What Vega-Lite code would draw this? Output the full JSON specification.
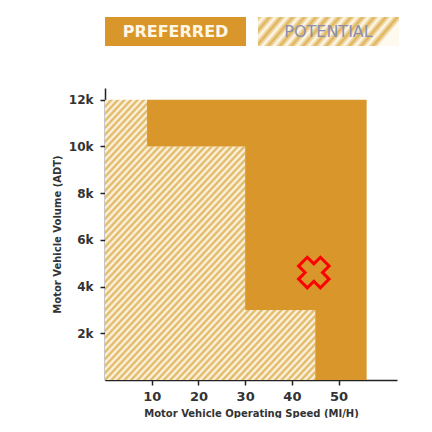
{
  "$schema": "https://vega.github.io/schema/vega-lite/v6.json",
  "padding": {"left": 52, "top": 17, "right": 0, "bottom": 0},
  "background": "#ffffff",
  "datasets": {
    "legend": [{"label": "PREFERRED"}, {"label": "POTENTIAL"}],
    "boundary": [
      {"speed": 0, "volume": 12000},
      {"speed": 9, "volume": 10000},
      {"speed": 30, "volume": 3000},
      {"speed": 45, "volume": 0},
      {"speed": 56, "volume": 0}
    ],
    "marker": [{"speed": 44.7, "volume": 4600}]
  },
  "config": {"view": {"stroke": null}, "font": "DejaVu Sans"},
  "spacing": 42,
  "bounds": "flush",
  "vconcat": [
    {
      "width": 294,
      "height": 29,
      "data": {"name": "legend"},
      "encoding": {
        "x": {"field": "label", "type": "nominal", "axis": null,
              "scale": {"domain": ["PREFERRED", "POTENTIAL"], "paddingInner": 0.078, "paddingOuter": 0}}
      },
      "layer": [
        {"transform": [{"filter": "datum.label === 'PREFERRED'"}], "mark": {"type": "rect", "fill": "#d8962b"}},
        {"transform": [{"filter": "datum.label === 'POTENTIAL'"}],
         "mark": {"type": "rect", "fill": {"gradient": "linear", "x1": 0, "y1": 0, "x2": 1, "y2": 0.175, "stops": [
           {"offset": 0, "color": "#deb256"}, {"offset": 0.04, "color": "#fffaf0"},
           {"offset": 0.08, "color": "#deb256"}, {"offset": 0.12, "color": "#fffaf0"},
           {"offset": 0.16, "color": "#deb256"}, {"offset": 0.2, "color": "#fffaf0"},
           {"offset": 0.24, "color": "#deb256"}, {"offset": 0.28, "color": "#fffaf0"},
           {"offset": 0.32, "color": "#deb256"}, {"offset": 0.36, "color": "#fffaf0"},
           {"offset": 0.4, "color": "#deb256"}, {"offset": 0.44, "color": "#fffaf0"},
           {"offset": 0.48, "color": "#deb256"}, {"offset": 0.52, "color": "#fffaf0"},
           {"offset": 0.56, "color": "#deb256"}, {"offset": 0.6, "color": "#fffaf0"},
           {"offset": 0.64, "color": "#deb256"}, {"offset": 0.68, "color": "#fffaf0"},
           {"offset": 0.72, "color": "#deb256"}, {"offset": 0.76, "color": "#fffaf0"},
           {"offset": 0.8, "color": "#deb256"}, {"offset": 0.84, "color": "#fffaf0"},
           {"offset": 0.88, "color": "#deb256"}, {"offset": 0.92, "color": "#fffaf0"},
           {"offset": 0.96, "color": "#deb256"}, {"offset": 1, "color": "#fffaf0"}
         ]}}},
        {"transform": [{"filter": "datum.label === 'PREFERRED'"}],
         "mark": {"type": "text", "font": "DejaVu Sans", "fontSize": 16, "fontWeight": "bold", "fill": "#fff6e6"},
         "encoding": {"text": {"field": "label"}}},
        {"transform": [{"filter": "datum.label === 'POTENTIAL'"}],
         "mark": {"type": "text", "font": "DejaVu Sans", "fontSize": 16, "fontWeight": "normal", "fill": "#8a8fb0"},
         "encoding": {"text": {"field": "label"}}}
      ]
    },
    {
      "width": 292,
      "height": 292,
      "layer": [
        {
          "data": {"name": "boundary"},
          "mark": {"type": "area", "interpolate": "step-after", "fill": {"gradient": "linear", "x1": 0, "y1": 0, "x2": 1, "y2": 1, "stops": [
            {"offset": 0, "color": "#deb256"}, {"offset": 0.00625, "color": "#fffaf0"}, {"offset": 0.0125, "color": "#deb256"}, {"offset": 0.01875, "color": "#fffaf0"}, {"offset": 0.025, "color": "#deb256"}, {"offset": 0.03125, "color": "#fffaf0"}, {"offset": 0.0375, "color": "#deb256"}, {"offset": 0.04375, "color": "#fffaf0"}, {"offset": 0.05, "color": "#deb256"}, {"offset": 0.05625, "color": "#fffaf0"}, {"offset": 0.0625, "color": "#deb256"}, {"offset": 0.06875, "color": "#fffaf0"}, {"offset": 0.075, "color": "#deb256"}, {"offset": 0.08125, "color": "#fffaf0"}, {"offset": 0.0875, "color": "#deb256"}, {"offset": 0.09375, "color": "#fffaf0"},
            {"offset": 0.1, "color": "#deb256"}, {"offset": 0.10625, "color": "#fffaf0"}, {"offset": 0.1125, "color": "#deb256"}, {"offset": 0.11875, "color": "#fffaf0"}, {"offset": 0.125, "color": "#deb256"}, {"offset": 0.13125, "color": "#fffaf0"}, {"offset": 0.1375, "color": "#deb256"}, {"offset": 0.14375, "color": "#fffaf0"}, {"offset": 0.15, "color": "#deb256"}, {"offset": 0.15625, "color": "#fffaf0"}, {"offset": 0.1625, "color": "#deb256"}, {"offset": 0.16875, "color": "#fffaf0"}, {"offset": 0.175, "color": "#deb256"}, {"offset": 0.18125, "color": "#fffaf0"}, {"offset": 0.1875, "color": "#deb256"}, {"offset": 0.19375, "color": "#fffaf0"},
            {"offset": 0.2, "color": "#deb256"}, {"offset": 0.20625, "color": "#fffaf0"}, {"offset": 0.2125, "color": "#deb256"}, {"offset": 0.21875, "color": "#fffaf0"}, {"offset": 0.225, "color": "#deb256"}, {"offset": 0.23125, "color": "#fffaf0"}, {"offset": 0.2375, "color": "#deb256"}, {"offset": 0.24375, "color": "#fffaf0"}, {"offset": 0.25, "color": "#deb256"}, {"offset": 0.25625, "color": "#fffaf0"}, {"offset": 0.2625, "color": "#deb256"}, {"offset": 0.26875, "color": "#fffaf0"}, {"offset": 0.275, "color": "#deb256"}, {"offset": 0.28125, "color": "#fffaf0"}, {"offset": 0.2875, "color": "#deb256"}, {"offset": 0.29375, "color": "#fffaf0"},
            {"offset": 0.3, "color": "#deb256"}, {"offset": 0.30625, "color": "#fffaf0"}, {"offset": 0.3125, "color": "#deb256"}, {"offset": 0.31875, "color": "#fffaf0"}, {"offset": 0.325, "color": "#deb256"}, {"offset": 0.33125, "color": "#fffaf0"}, {"offset": 0.3375, "color": "#deb256"}, {"offset": 0.34375, "color": "#fffaf0"}, {"offset": 0.35, "color": "#deb256"}, {"offset": 0.35625, "color": "#fffaf0"}, {"offset": 0.3625, "color": "#deb256"}, {"offset": 0.36875, "color": "#fffaf0"}, {"offset": 0.375, "color": "#deb256"}, {"offset": 0.38125, "color": "#fffaf0"}, {"offset": 0.3875, "color": "#deb256"}, {"offset": 0.39375, "color": "#fffaf0"},
            {"offset": 0.4, "color": "#deb256"}, {"offset": 0.40625, "color": "#fffaf0"}, {"offset": 0.4125, "color": "#deb256"}, {"offset": 0.41875, "color": "#fffaf0"}, {"offset": 0.425, "color": "#deb256"}, {"offset": 0.43125, "color": "#fffaf0"}, {"offset": 0.4375, "color": "#deb256"}, {"offset": 0.44375, "color": "#fffaf0"}, {"offset": 0.45, "color": "#deb256"}, {"offset": 0.45625, "color": "#fffaf0"}, {"offset": 0.4625, "color": "#deb256"}, {"offset": 0.46875, "color": "#fffaf0"}, {"offset": 0.475, "color": "#deb256"}, {"offset": 0.48125, "color": "#fffaf0"}, {"offset": 0.4875, "color": "#deb256"}, {"offset": 0.49375, "color": "#fffaf0"},
            {"offset": 0.5, "color": "#deb256"}, {"offset": 0.50625, "color": "#fffaf0"}, {"offset": 0.5125, "color": "#deb256"}, {"offset": 0.51875, "color": "#fffaf0"}, {"offset": 0.525, "color": "#deb256"}, {"offset": 0.53125, "color": "#fffaf0"}, {"offset": 0.5375, "color": "#deb256"}, {"offset": 0.54375, "color": "#fffaf0"}, {"offset": 0.55, "color": "#deb256"}, {"offset": 0.55625, "color": "#fffaf0"}, {"offset": 0.5625, "color": "#deb256"}, {"offset": 0.56875, "color": "#fffaf0"}, {"offset": 0.575, "color": "#deb256"}, {"offset": 0.58125, "color": "#fffaf0"}, {"offset": 0.5875, "color": "#deb256"}, {"offset": 0.59375, "color": "#fffaf0"},
            {"offset": 0.6, "color": "#deb256"}, {"offset": 0.60625, "color": "#fffaf0"}, {"offset": 0.6125, "color": "#deb256"}, {"offset": 0.61875, "color": "#fffaf0"}, {"offset": 0.625, "color": "#deb256"}, {"offset": 0.63125, "color": "#fffaf0"}, {"offset": 0.6375, "color": "#deb256"}, {"offset": 0.64375, "color": "#fffaf0"}, {"offset": 0.65, "color": "#deb256"}, {"offset": 0.65625, "color": "#fffaf0"}, {"offset": 0.6625, "color": "#deb256"}, {"offset": 0.66875, "color": "#fffaf0"}, {"offset": 0.675, "color": "#deb256"}, {"offset": 0.68125, "color": "#fffaf0"}, {"offset": 0.6875, "color": "#deb256"}, {"offset": 0.69375, "color": "#fffaf0"},
            {"offset": 0.7, "color": "#deb256"}, {"offset": 0.70625, "color": "#fffaf0"}, {"offset": 0.7125, "color": "#deb256"}, {"offset": 0.71875, "color": "#fffaf0"}, {"offset": 0.725, "color": "#deb256"}, {"offset": 0.73125, "color": "#fffaf0"}, {"offset": 0.7375, "color": "#deb256"}, {"offset": 0.74375, "color": "#fffaf0"}, {"offset": 0.75, "color": "#deb256"}, {"offset": 0.75625, "color": "#fffaf0"}, {"offset": 0.7625, "color": "#deb256"}, {"offset": 0.76875, "color": "#fffaf0"}, {"offset": 0.775, "color": "#deb256"}, {"offset": 0.78125, "color": "#fffaf0"}, {"offset": 0.7875, "color": "#deb256"}, {"offset": 0.79375, "color": "#fffaf0"},
            {"offset": 0.8, "color": "#deb256"}, {"offset": 0.80625, "color": "#fffaf0"}, {"offset": 0.8125, "color": "#deb256"}, {"offset": 0.81875, "color": "#fffaf0"}, {"offset": 0.825, "color": "#deb256"}, {"offset": 0.83125, "color": "#fffaf0"}, {"offset": 0.8375, "color": "#deb256"}, {"offset": 0.84375, "color": "#fffaf0"}, {"offset": 0.85, "color": "#deb256"}, {"offset": 0.85625, "color": "#fffaf0"}, {"offset": 0.8625, "color": "#deb256"}, {"offset": 0.86875, "color": "#fffaf0"}, {"offset": 0.875, "color": "#deb256"}, {"offset": 0.88125, "color": "#fffaf0"}, {"offset": 0.8875, "color": "#deb256"}, {"offset": 0.89375, "color": "#fffaf0"},
            {"offset": 0.9, "color": "#deb256"}, {"offset": 0.90625, "color": "#fffaf0"}, {"offset": 0.9125, "color": "#deb256"}, {"offset": 0.91875, "color": "#fffaf0"}, {"offset": 0.925, "color": "#deb256"}, {"offset": 0.93125, "color": "#fffaf0"}, {"offset": 0.9375, "color": "#deb256"}, {"offset": 0.94375, "color": "#fffaf0"}, {"offset": 0.95, "color": "#deb256"}, {"offset": 0.95625, "color": "#fffaf0"}, {"offset": 0.9625, "color": "#deb256"}, {"offset": 0.96875, "color": "#fffaf0"}, {"offset": 0.975, "color": "#deb256"}, {"offset": 0.98125, "color": "#fffaf0"}, {"offset": 0.9875, "color": "#deb256"}, {"offset": 0.99375, "color": "#fffaf0"},
            {"offset": 1, "color": "#deb256"}
          ]}},
          "encoding": {
            "x": {"field": "speed", "type": "quantitative",
                  "scale": {"domain": [0, 62.5], "nice": false, "zero": false},
                  "axis": {"values": [10, 20, 30, 40, 50], "title": "Motor Vehicle Operating Speed (MI/H)", "grid": false,
                           "domainColor": "#222222", "domainWidth": 1.5, "tickColor": "#222222", "tickWidth": 1.5, "tickSize": 5,
                           "labelFont": "DejaVu Sans", "labelFontSize": 13, "labelFontWeight": "bold", "labelColor": "#333333", "labelPadding": 5,
                           "titleFont": "DejaVu Sans", "titleFontSize": 10, "titleFontWeight": "bold", "titleColor": "#333333", "titlePadding": 5}},
            "y": {"field": "volume", "type": "quantitative",
                  "scale": {"domain": [0, 12500], "nice": false},
                  "axis": {"values": [2000, 4000, 6000, 8000, 10000, 12000], "labelExpr": "(datum.value / 1000) + 'k'",
                           "title": "Motor Vehicle Volume (ADT)", "grid": false,
                           "domainColor": "#222222", "domainWidth": 1.5, "tickColor": "#222222", "tickWidth": 1.5, "tickSize": 5,
                           "labelFont": "DejaVu Sans", "labelFontSize": 12, "labelFontWeight": "bold", "labelColor": "#333333", "labelPadding": 7,
                           "titleFont": "DejaVu Sans", "titleFontSize": 10, "titleFontWeight": "bold", "titleColor": "#333333", "titlePadding": 6}}
          }
        },
        {
          "data": {"name": "boundary"},
          "mark": {"type": "area", "interpolate": "step-after", "fill": "#d8962b"},
          "encoding": {
            "x": {"field": "speed", "type": "quantitative"},
            "y": {"field": "volume", "type": "quantitative"},
            "y2": {"datum": 12000}
          }
        },
        {
          "data": {"name": "marker"},
          "mark": {"type": "point", "shape": "cross", "angle": 45, "size": 950, "filled": true, "fill": "#d8962b", "fillOpacity": 1, "stroke": "#ff0000", "strokeWidth": 3, "strokeOpacity": 1},
          "encoding": {
            "x": {"field": "speed", "type": "quantitative"},
            "y": {"field": "volume", "type": "quantitative"}
          }
        },
        {
          "mark": {"type": "point", "shape": "triangle-up", "filled": true, "color": "#222222", "size": 40, "opacity": 1},
          "encoding": {
            "x": {"datum": 0, "type": "quantitative"},
            "y": {"datum": 12500, "type": "quantitative"}
          }
        }
      ]
    }
  ]
}
